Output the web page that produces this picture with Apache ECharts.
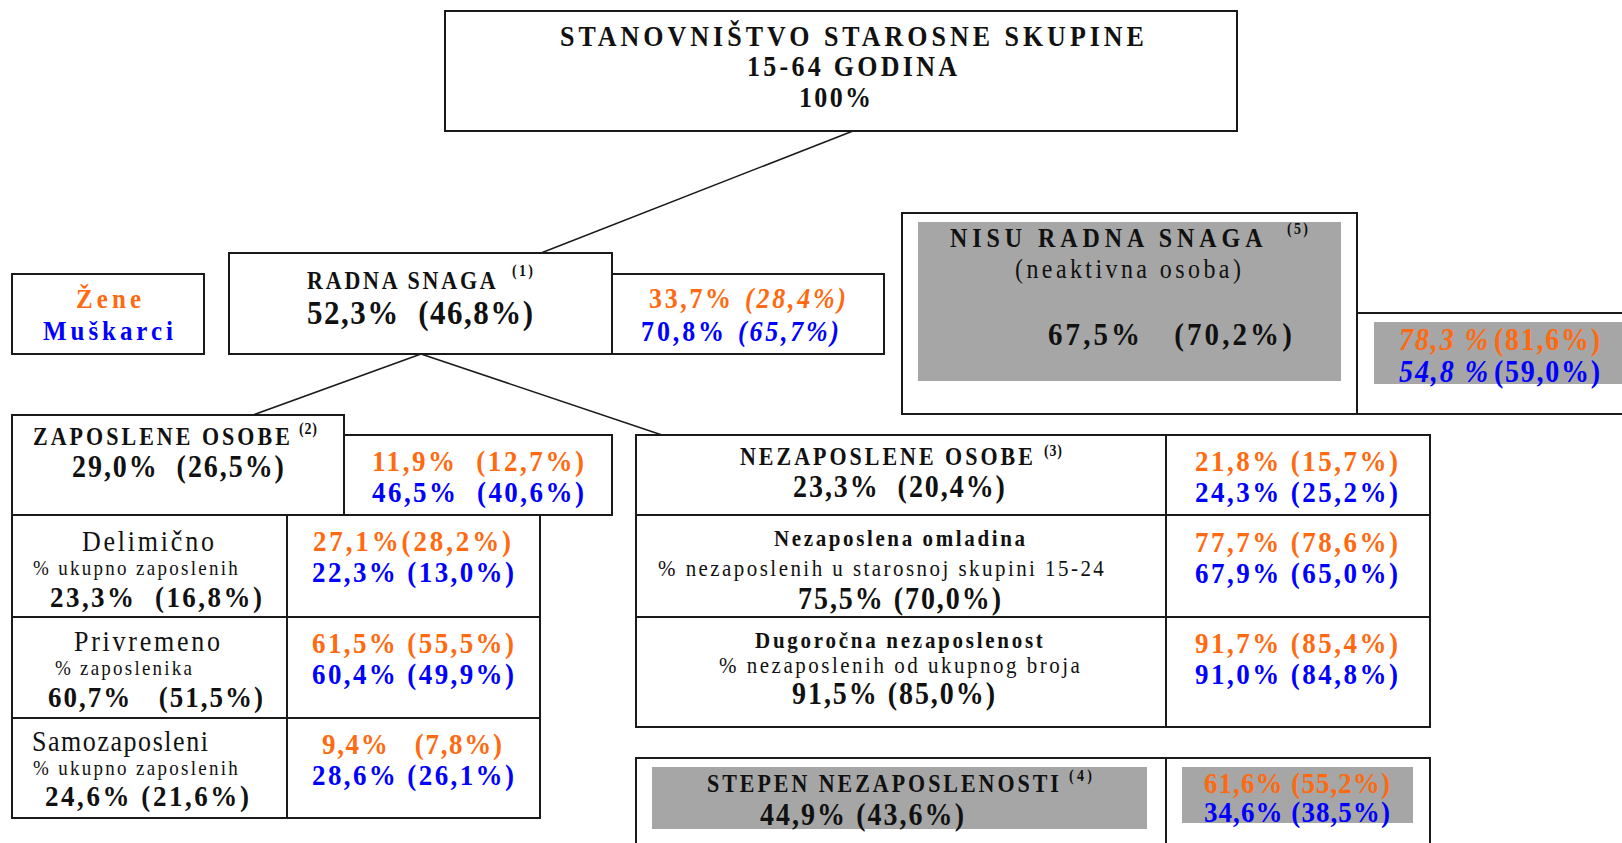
<!DOCTYPE html>
<html>
<head>
<meta charset="utf-8">
<title>Stanovništvo 15-64</title>
<script src="https://cdn.jsdelivr.net/npm/echarts@6/dist/echarts.min.js"></script>
<style>
html, body { margin: 0; padding: 0; background: #fff; }
#main { width: 1622px; height: 843px; }
</style>
<style id="spacing"></style>
</head>
<body>
<div id="main"></div>
<script type="text/javascript">
// podaci (ukupno, u zagradi prethodna vrijednost)
var nodeNames = ['STANOVNIŠTVO STAROSNE SKUPINE', 'RADNA SNAGA', 'NISU RADNA SNAGA', 'ZAPOSLENE OSOBE',
  'Delimično', 'Privremeno', 'Samozaposleni', 'NEZAPOSLENE OSOBE', 'Nezaposlena omladina',
  'Dugoročna nezaposlenost', 'STEPEN NEZAPOSLENOSTI'];
var nodeSubs = ['15-64 GODINA', '', '(neaktivna osoba)', '', '% ukupno zaposlenih', '% zaposlenika',
  '% ukupno zaposlenih', '', '% nezaposlenih u starosnoj skupini 15-24', '% nezaposlenih od ukupnog broja', ''];
var notes = ['', '(1)', '(5)', '(2)', '', '', '', '(3)', '', '', '(4)'];
var legendNames = ['Žene', 'Muškarci'];

var total     = [100, 52.3, 67.5, 29.0, 23.3, 60.7, 24.6, 23.3, 75.5, 91.5, 44.9];
var totalPrev = [null, 46.8, 70.2, 26.5, 16.8, 51.5, 21.6, 20.4, 70.0, 85.0, 43.6];
var women     = [null, 33.7, 78.3, 11.9, 27.1, 61.5, 9.4, 21.8, 77.7, 91.7, 61.6];
var womenPrev = [null, 28.4, 81.6, 12.7, 28.2, 55.5, 7.8, 15.7, 78.6, 85.4, 55.2];
var men       = [null, 70.8, 54.8, 46.5, 22.3, 60.4, 28.6, 24.3, 67.9, 91.0, 34.6];
var menPrev   = [null, 65.7, 59.0, 40.6, 13.0, 49.9, 26.1, 25.2, 65.0, 84.8, 38.5];

// raspored: okviri [x0, y0, x1, y1, siva]
var boxes = [
  [445, 11, 1237, 131, 0],
  [12, 274, 204, 354, 0],
  [229, 253, 612, 354, 0], [612, 274, 884, 354, 0],
  [902, 213, 1357, 414, 0], [1357, 313, 1640, 414, 0],
  [12, 415, 344, 515, 0], [344, 435, 612, 515, 0],
  [12, 515, 287, 617, 0], [287, 515, 540, 617, 0],
  [12, 617, 287, 718, 0], [287, 617, 540, 718, 0],
  [12, 718, 287, 818, 0], [287, 718, 540, 818, 0],
  [636, 435, 1166, 515, 0], [1166, 435, 1430, 515, 0],
  [636, 515, 1166, 617, 0], [1166, 515, 1430, 617, 0],
  [636, 617, 1166, 727, 0], [1166, 617, 1430, 727, 0],
  [636, 758, 1166, 860, 0], [1166, 758, 1430, 860, 0],
  [918, 222, 1341, 381, 1], [1374, 322, 1640, 384, 1],
  [652, 767, 1147, 829, 1], [1182, 767, 1413, 823, 1]
];
var links = [
  [[853, 131], [541, 253]],
  [[421, 354], [253, 415]],
  [[421, 354], [662, 435]]
];
// tekst: [cvor, uloga, x0, x1, y, velicina, debljina, kurziv, boja, razmaci]
var textLayout = [
  [0, 'name', 560, 1144, 36, 26, 'b', 0, 'k'],
  [0, 'sub', 747, 957, 66, 26, 'b', 0, 'k'],
  [0, 'total', 799, 871, 97, 26, 'b', 0, 'k'],
  [0, 'legend', 76, 141, 299, 25, 'b', 0, 'o'],
  [1, 'legend', 43, 173, 331, 25, 'b', 0, 'b'],

  [1, 'name', 307, 497, 281, 22, 'b', 0, 'k'],
  [1, 'note', 512, 533, 271, 14, 'b', 0, 'k'],
  [1, 'total', 307, 533, 312, 31, 'b', 0, 'k', 2],
  [1, 'wA', 649, 731, 298, 26, 'b', 0, 'o'], [1, 'wB', 745, 846, 298, 26, 'b', 1, 'o'],
  [1, 'mA', 641, 724, 331, 26, 'b', 0, 'b'], [1, 'mB', 738, 839, 331, 26, 'b', 1, 'b'],

  [2, 'name', 950, 1264, 238, 24, 'b', 0, 'k'],
  [2, 'note', 1287, 1308, 229, 14, 'b', 0, 'k'],
  [2, 'sub', 1015, 1241, 269, 24, 'n', 0, 'k'],
  [2, 'total', 1048, 1292, 334, 29, 'b', 0, 'k', 3],
  [2, 'wAs', 1399, 1488, 339, 28, 'b', 1, 'o'], [2, 'wB', 1494, 1600, 339, 28, 'b', 0, 'o'],
  [2, 'mAs', 1399, 1488, 371, 28, 'b', 1, 'b'], [2, 'mB', 1494, 1600, 371, 28, 'b', 0, 'b'],

  [3, 'name', 33, 290, 437, 22, 'b', 0, 'k'],
  [3, 'note', 299, 317, 429, 14, 'b', 0, 'k'],
  [3, 'total', 72, 284, 466, 28, 'b', 0, 'k', 2],
  [3, 'w', 372, 584, 460, 27, 'b', 0, 'o', 2],
  [3, 'm', 372, 584, 491, 27, 'b', 0, 'b', 2],

  [4, 'name', 82, 214, 541, 26, 'n', 0, 'k'],
  [4, 'sub', 33, 238, 568, 19, 'n', 0, 'k'],
  [4, 'total', 50, 262, 596, 27, 'b', 0, 'k', 2],
  [4, 'w', 313, 511, 540, 27, 'b', 0, 'o', 0],
  [4, 'm', 312, 514, 571, 27, 'b', 0, 'b', 1],

  [5, 'name', 74, 220, 641, 26, 'n', 0, 'k'],
  [5, 'sub', 55, 192, 668, 19, 'n', 0, 'k'],
  [5, 'total', 48, 263, 696, 27, 'b', 0, 'k', 3],
  [5, 'w', 312, 514, 642, 27, 'b', 0, 'o', 1],
  [5, 'm', 312, 514, 673, 27, 'b', 0, 'b', 1],

  [6, 'name', 32, 208, 741, 26, 'n', 0, 'k'],
  [6, 'sub', 33, 238, 768, 19, 'n', 0, 'k'],
  [6, 'total', 45, 249, 795, 27, 'b', 0, 'k', 1],
  [6, 'w', 322, 502, 743, 27, 'b', 0, 'o', 3],
  [6, 'm', 312, 514, 774, 27, 'b', 0, 'b', 1],

  [7, 'name', 740, 1033, 457, 22, 'b', 0, 'k'],
  [7, 'note', 1044, 1062, 451, 14, 'b', 0, 'k'],
  [7, 'total', 793, 1005, 486, 28, 'b', 0, 'k', 2],
  [7, 'w', 1195, 1398, 460, 27, 'b', 0, 'o', 1],
  [7, 'm', 1195, 1398, 491, 27, 'b', 0, 'b', 1],

  [8, 'name', 774, 1025, 538, 21, 'b', 0, 'k'],
  [8, 'sub', 658, 1104, 568, 21, 'n', 0, 'k'],
  [8, 'total', 798, 1001, 598, 28, 'b', 0, 'k', 1],
  [8, 'w', 1195, 1398, 541, 27, 'b', 0, 'o', 1],
  [8, 'm', 1195, 1398, 572, 27, 'b', 0, 'b', 1],

  [9, 'name', 755, 1043, 640, 21, 'b', 0, 'k'],
  [9, 'sub', 719, 1080, 665, 21, 'n', 0, 'k'],
  [9, 'total', 792, 995, 693, 28, 'b', 0, 'k', 1],
  [9, 'w', 1195, 1398, 642, 27, 'b', 0, 'o', 1],
  [9, 'm', 1195, 1398, 673, 27, 'b', 0, 'b', 1],

  [10, 'name', 707, 1059, 784, 22, 'b', 0, 'k'],
  [10, 'note', 1069, 1092, 776, 14, 'b', 0, 'k'],
  [10, 'total', 760, 964, 814, 28, 'b', 0, 'k', 1],
  [10, 'w', 1204, 1390, 782, 27, 'b', 0, 'o', 1],
  [10, 'm', 1204, 1390, 811, 27, 'b', 0, 'b', 1]
];
var colors = { k: '#111111', o: '#ff6a10', b: '#0000ff' };
var TEXT_SY = 1.12;

function pct(v) { return v.toFixed(1).replace('.', ',') + '%'; }
function pctSp(v) { return v.toFixed(1).replace('.', ',') + ' %'; }
function pair(a, b, sp) { return pct(a) + ' '.repeat(sp == null ? 2 : sp) + '(' + pct(b) + ')'; }

function textOf(node, role, sp) {
  switch (role) {
    case 'name': return nodeNames[node];
    case 'sub': return nodeSubs[node];
    case 'note': return notes[node];
    case 'legend': return legendNames[node];
    case 'total': return totalPrev[node] == null ? total[node] + '%' : pair(total[node], totalPrev[node], sp);
    case 'w': return pair(women[node], womenPrev[node], sp);
    case 'm': return pair(men[node], menPrev[node], sp);
    case 'wA': return pct(women[node]);
    case 'mA': return pct(men[node]);
    case 'wAs': return pctSp(women[node]);
    case 'mAs': return pctSp(men[node]);
    case 'wB': return '(' + pct(womenPrev[node]) + ')';
    case 'mB': return '(' + pct(menPrev[node]) + ')';
  }
  return '';
}

// razmak slova da tekst zauzme istu sirinu kao na slici
var measure = document.createElement('canvas').getContext('2d');
var css = [];
var textItems = textLayout.map(function (r, i) {
  var str = textOf(r[0], r[1], r[9]);
  var token = 'lsp' + i + 'x';
  var family = token + ", 'Liberation Serif', 'Times New Roman', serif";
  var weight = r[6] === 'b' ? 'bold' : 'normal';
  var fstyle = r[7] ? 'italic' : 'normal';
  measure.font = fstyle + ' ' + weight + ' ' + r[5] + 'px ' + family;
  var n = Array.from(str).length;
  var ls = n > 1 ? (r[3] - r[2] - measure.measureText(str).width) / (n - 1) : 0;
  css.push('text[style*="' + token + '"]{letter-spacing:' + ls.toFixed(2) + 'px}');
  return { str: str, x0: r[2], y: r[4], size: r[5], family: family, weight: weight, fstyle: fstyle, color: colors[r[8]] };
});
document.getElementById('spacing').textContent = css.join('\n');

var myChart = echarts.init(document.getElementById('main'), null, { renderer: 'svg' });

var option = {
  animation: false,
  backgroundColor: '#ffffff',
  grid: { left: 0, right: 0, top: 0, bottom: 0 },
  xAxis: { type: 'value', min: 0, max: 1622, show: false },
  yAxis: { type: 'value', min: 0, max: 843, inverse: true, show: false },
  series: [
    {
      type: 'custom',
      silent: true,
      clip: false,
      data: boxes,
      renderItem: function (params, api) {
        var p0 = api.coord([api.value(0), api.value(1)]);
        var p1 = api.coord([api.value(2), api.value(3)]);
        var gray = api.value(4) === 1;
        return {
          type: 'rect',
          shape: { x: p0[0], y: p0[1], width: p1[0] - p0[0], height: p1[1] - p0[1] },
          style: gray ? { fill: '#a6a6a6' } : { fill: 'none', stroke: '#1a1a1a', lineWidth: 2 }
        };
      }
    },
    {
      type: 'lines',
      coordinateSystem: 'cartesian2d',
      silent: true,
      data: links.map(function (l) { return { coords: l }; }),
      lineStyle: { color: '#1a1a1a', width: 1.5, opacity: 1, curveness: 0 }
    },
    {
      type: 'custom',
      silent: true,
      clip: false,
      data: textItems.map(function (t) { return [t.x0, t.y]; }),
      renderItem: function (params, api) {
        var t = textItems[params.dataIndex];
        var p = api.coord([api.value(0), api.value(1)]);
        return {
          type: 'text',
          x: p[0],
          y: p[1],
          scaleY: TEXT_SY,
          style: {
            text: t.str,
            fill: t.color,
            fontSize: t.size,
            fontFamily: t.family,
            fontWeight: t.weight,
            fontStyle: t.fstyle,
            align: 'left',
            verticalAlign: 'middle'
          }
        };
      }
    }
  ]
};
myChart.setOption(option);
</script>
</body>
</html>
